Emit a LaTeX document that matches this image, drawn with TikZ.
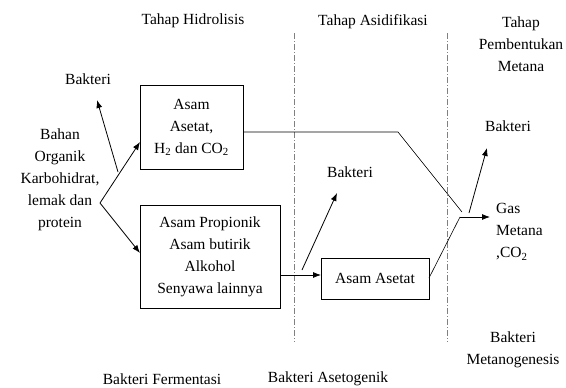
\documentclass[tikz,border=0pt]{standalone}
\usepackage{fontspec}
\setmainfont{Liberation Serif}
\usetikzlibrary{arrows.meta}
\begin{document}
\begin{tikzpicture}[x=1pt,y=-1pt,
  txt/.style={font=\fontsize{15.5}{22}\selectfont, align=center, inner sep=0pt},
  box/.style={draw, thick, txt},
  conn/.style={thick, -{Latex[length=8pt,width=6pt]}},
  plain/.style={semithick},
  sep/.style={draw=gray, dash pattern=on 6pt off 2pt on 1pt off 2pt}]
\useasboundingbox (0,0) rectangle (566,388);
% separators
\coordinate (s1t) at (294,33); \coordinate (s1b) at (294,342);
\coordinate (s2t) at (447,33); \coordinate (s2b) at (447,342);
\draw[sep] (s1t) -- (s1b);
\draw[sep] (s2t) -- (s2b);
% headings
\node[txt] (h1) at (193,21) {Tahap Hidrolisis};
\node[txt] (h2) at (373,22) {Tahap Asidifikasi};
\node[txt] (h3) at (521,44) {Tahap\\Pembentukan\\Metana};
% left text
\node[txt] (bahan) at (60,180) {Bahan\\Organik\\Karbohidrat,\\lemak dan\\protein};
% boxes
\node[box, minimum width=103pt, minimum height=84pt] (b1) at (191.5,127) {Asam\\Asetat,\\H\textsubscript{2} dan CO\textsubscript{2}};
\node[box, minimum width=140pt, minimum height=103pt] (b2) at (210,256.5) {Asam Propionik\\Asam butirik\\Alkohol\\Senyawa lainnya};
\node[box, minimum width=108pt, minimum height=41pt] (b3) at (375,278.5) {Asam Asetat};
% bacteria labels
\node[txt] (bk1) at (88,79) {Bakteri};
\node[txt] (bk2) at (350,172) {Bakteri};
\node[txt] (bk3) at (508,126) {Bakteri};
\node[txt, align=left, anchor=west] (gas) at (496,232) {Gas\\Metana\\,CO\textsubscript{2}};
\node[txt] (bm) at (513,350) {Bakteri\\Metanogenesis};
\node[txt] (bf) at (162,379) {Bakteri Fermentasi};
\node[txt] (ba) at (328,379) {Bakteri Asetogenik};
% coordinates
\coordinate (fork) at (100,203);
\coordinate (b1in) at (140,142);
\coordinate (b2in) at (140,253);
\coordinate (bk1s) at (118,172);
\coordinate (bk1e) at (97,100);
\coordinate (b1out) at (243,132);
\coordinate (bend) at (398,132);
\coordinate (meet) at (462,212);
\coordinate (b2out) at (280,275);
\coordinate (b3in) at (321,275);
\coordinate (bk2s) at (302,270);
\coordinate (bk2e) at (337,193);
\coordinate (b3out) at (429,278);
\coordinate (join) at (460,217);
\coordinate (gasin) at (490,217);
\coordinate (bk3s) at (469,213);
\coordinate (bk3e) at (487,148);
% connectors
\draw[conn] (fork) -- (b1in);
\draw[conn] (fork) -- (b2in);
\draw[conn] (bk1s) -- (bk1e);
\draw[plain] (b1out) -- (bend) -- (meet);
\draw[conn] (b2out) -- (b3in);
\draw[conn] (bk2s) -- (bk2e);
\draw[plain] (b3out) -- (join);
\draw[conn] (join) -- (gasin);
\draw[conn] (bk3s) -- (bk3e);
\end{tikzpicture}
\end{document}
